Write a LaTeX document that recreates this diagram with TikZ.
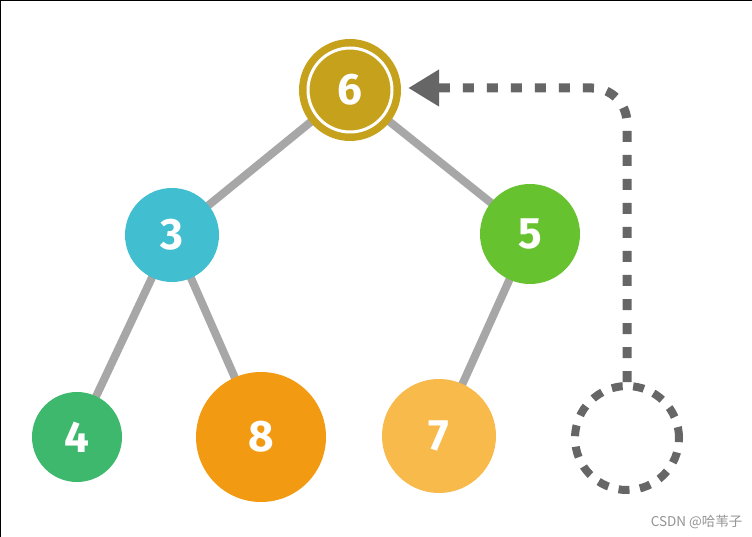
\documentclass[tikz,border=0pt]{standalone}
\usepackage{fontspec}
\setmainfont{Fira Sans}
\newfontfamily\cjk{Noto Sans CJK SC}
\usetikzlibrary{arrows.meta,backgrounds}
\definecolor{cgold}{HTML}{C6A11C}
\definecolor{cblue}{HTML}{41BECF}
\definecolor{cgreen}{HTML}{67C22F}
\definecolor{cdgreen}{HTML}{3DB86C}
\definecolor{corange}{HTML}{F39A13}
\definecolor{clorange}{HTML}{F8BA4B}
\definecolor{cedge}{HTML}{A7A7A7}
\definecolor{cdash}{HTML}{666666}
\tikzset{
  heapnode/.style={circle, inner sep=0pt, text=white, font=\fontsize{44}{44}\selectfont\bfseries},
  treeedge/.style={draw=cedge, line width=8pt},
  dashline/.style={draw=cdash, line width=9pt, dash pattern=on 11pt off 13pt},
}
\begin{document}
\begin{tikzpicture}[x=1pt,y=-1pt]
\useasboundingbox (0,0) rectangle (752,537);
% nodes
\node[heapnode, fill=cgold, minimum size=102pt] (six) at (350,90) {6};
\node[heapnode, fill=cblue, minimum size=94pt] (three) at (172,235) {3};
\node[heapnode, fill=cgreen, minimum size=100pt] (five) at (530,234) {5};
\node[heapnode, fill=cdgreen, minimum size=90pt] (four) at (77,437) {4};
\node[heapnode, fill=corange, minimum size=130pt] (eight) at (261,437) {8};
\node[heapnode, fill=clorange, minimum size=114pt] (seven) at (439,436) {7};
\node[circle, minimum size=104pt, inner sep=0pt, draw=cdash, line width=8pt, dash pattern=on 11pt off 10.5pt] (empty) at (627,438) {};
\draw[white, line width=3pt] (six.center) circle[radius=42pt];
% edges
\begin{scope}[on background layer]
\fill[white] (0,0) rectangle (752,537);
\draw[black, line width=1.5pt] (0,537) -- (0,0) -- (752,0);
\draw[treeedge] (six.center) -- (three.center);
\draw[treeedge] (six.center) -- (five.center);
\draw[treeedge] (three.center) -- (four.center);
\draw[treeedge] (three.center) -- (eight.center);
\draw[treeedge] (five.center) -- (seven.center);
\end{scope}
% arrow
\coordinate (corner) at (627,88);
\draw[dashline, rounded corners=35pt, -{Triangle[length=31pt,width=35pt]}, shorten >=7pt]
  (empty.north) -- (corner) -- (six.east |- corner);
% watermark
\node[font=\cjk\fontsize{13.5}{13.5}\selectfont, text=black!42, anchor=east] (wm) at (746,522) {CSDN @哈苇子};
\end{tikzpicture}
\end{document}
